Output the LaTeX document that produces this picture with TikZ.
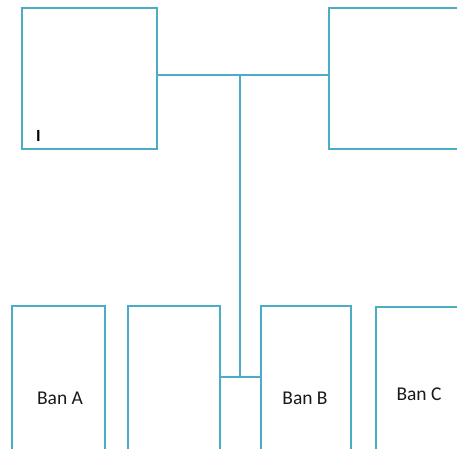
\documentclass[tikz,border=0pt]{standalone}
\usepackage{fontspec}
\setmainfont{Carlito}
\definecolor{boxblue}{RGB}{75,172,198}
\begin{document}
\begin{tikzpicture}[x=1pt,y=-1pt,
  box/.style={draw=boxblue,line width=2.2pt,fill=white,inner sep=0pt},
  wire/.style={draw=boxblue,line width=2.2pt},
  lbl/.style={font=\fontsize{19.5}{21}\selectfont,text=black!90,inner sep=0pt}]
\useasboundingbox (0,0) rectangle (457,448);
\clip (0,0) rectangle (457,448);
% top row
\node[box,minimum width=135pt,minimum height=141pt] (tl) at (89.5,78.5) {};
\node[box,minimum width=135pt,minimum height=141pt] (tr) at (396.5,78.5) {};
\node[font=\bfseries\fontsize{17}{19}\selectfont,inner sep=0pt] (mark) at (38.5,135.5) {I};
% bottom row
\node[box,minimum width=93pt,minimum height=150pt] (ba) at (58.5,381) {};
\node[box,minimum width=92pt,minimum height=150pt] (bx) at (174,381) {};
\node[box,minimum width=90pt,minimum height=150pt] (bb) at (306,381) {};
\node[box,minimum width=90pt,minimum height=150pt] (bc) at (421,382) {};
\node[lbl] (la) at (60,398) {Ban A};
\node[lbl] (lb) at (305,398) {Ban B};
\node[lbl] (lc) at (419,394) {Ban C};
% connectors
\coordinate (j1) at (240,75);
\coordinate (j2) at (240,377);
\draw[wire] (j1 -| tl.east) -- (j1 -| tr.west);
\draw[wire] (j1) -- (j2);
\draw[wire] (j2 -| bx.east) -- (j2 -| bb.west);
\end{tikzpicture}
\end{document}
